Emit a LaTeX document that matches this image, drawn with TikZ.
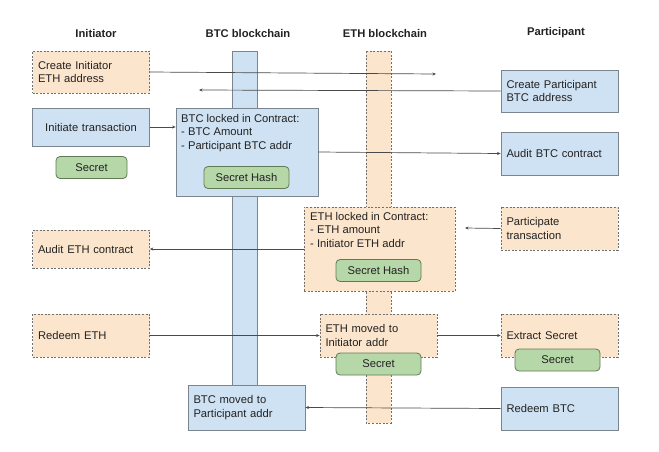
\documentclass[tikz,border=0pt]{standalone}
\usepackage{fontspec}
\setmainfont{Liberation Sans}
\usetikzlibrary{arrows.meta}
\definecolor{btcfill}{HTML}{CFE2F3}
\definecolor{btcline}{HTML}{7A8590}
\definecolor{ethfill}{HTML}{FCE5CD}
\definecolor{ethline}{HTML}{707070}
\definecolor{secfill}{HTML}{B6D7A8}
\definecolor{secline}{HTML}{5F7A55}
\definecolor{arrline}{HTML}{4A4A4A}
\definecolor{txt}{HTML}{222222}

\begin{document}
\begin{tikzpicture}[x=1pt, y=-1pt, font=\fontsize{11.2}{13.5}\selectfont, text=txt]
\tikzstyle{btcbox} = [rectangle, draw = btcline, fill = btcfill, line width = 0.8pt, inner ysep = 0pt, inner xsep = 5.5pt, text width = 106pt, align = left]
\tikzstyle{ethbox} = [rectangle, draw = ethline, fill = ethfill, line width = 0.7pt, dash pattern = on 2pt off 1.6pt, inner ysep = 0pt, inner xsep = 5.5pt, text width = 106pt, align = left]
\tikzstyle{secret} = [rectangle, rounded corners = 4pt, draw = secline, fill = secfill, line width = 0.8pt, inner sep = 0pt, minimum height = 22pt]
\tikzstyle{head} = [font = \fontsize{11.2}{13.5}\selectfont\bfseries]
\tikzstyle{edge} = [-{Stealth[length=3.5pt, width=3pt]}, draw = arrline, line width = 0.7pt]
\useasboundingbox (0,0) rectangle (659,451);
% -----------------------------------
% Headings
\node[head] (hinit) at (96, 33) {Initiator};
\node[head] (hbtc) at (248, 33) {BTC blockchain};
\node[head] (heth) at (385, 33) {ETH blockchain};
\node[head] (hpart) at (556, 33) {Participant};

% -----------------------------------
% Chains
\draw[draw = btcline, fill = btcfill, line width = 0.8pt] (232, 51) rectangle (257, 386);
\draw[draw = ethline, fill = ethfill, line width = 0.7pt, dash pattern = on 2pt off 1.6pt] (366, 51) rectangle (391, 423);

% -----------------------------------
% Initiator
\node[ethbox, minimum height = 42pt] (ciaddr) at (91, 72) {Create Initiator\\ETH address};
\node[btcbox, minimum height = 38pt, align = center] (inittx) at (91, 127) {Initiate transaction};
\node[secret, minimum width = 71pt] (isecret) at (91.5, 167.5) {Secret};
\node[ethbox, minimum height = 38pt] (auditeth) at (91, 249) {Audit ETH contract};
\node[ethbox, minimum height = 43pt] (redeemeth) at (91, 335.5) {Redeem ETH};

% -----------------------------------
% BTC blockchain
\node[btcbox, text width = 131pt, minimum height = 88pt] (btclock) at (247, 152) {};
\node[anchor = north west, inner sep = 0pt, align = left] (btclocktxt) at (181, 114) {BTC locked in Contract:\\- BTC Amount\\- Participant BTC addr};
\node[secret, minimum width = 85pt] (btchash) at (246.5, 177.5) {Secret Hash};
\node[btcbox, minimum height = 45pt] (btcmoved) at (246.5, 407.5) {BTC moved to\\Participant addr};

% -----------------------------------
% ETH blockchain
\node[ethbox, text width = 140pt, minimum height = 84pt] (ethlock) at (379.5, 249) {};
\node[anchor = north west, inner sep = 0pt, align = left] (ethlocktxt) at (310, 212) {ETH locked in Contract:\\- ETH amount\\- Initiator ETH addr};
\node[secret, minimum width = 85pt] (ethhash) at (378.5, 270.5) {Secret Hash};
\node[ethbox, minimum height = 43pt] (ethmoved) at (378.5, 335.5) {ETH moved to\\Initiator addr};
\node[secret, minimum width = 85pt] (esecret) at (378.5, 364) {Secret};

% -----------------------------------
% Participant
\node[btcbox, minimum height = 42pt] (cpaddr) at (559.5, 91) {Create Participant\\BTC address};
\node[btcbox, minimum height = 43pt] (auditbtc) at (559.5, 153.5) {Audit BTC contract};
\node[ethbox, minimum height = 43pt] (parttx) at (559.5, 228.5) {Participate\\transaction};
\node[ethbox, minimum height = 43pt] (extract) at (559.5, 335.5) {Extract Secret};
\node[secret, minimum width = 85pt] (psecret) at (557.5, 360) {Secret};
\node[btcbox, minimum height = 43pt] (redeembtc) at (559.5, 408.5) {Redeem BTC};

% -----------------------------------
% Messages
\coordinate (ciend) at (436, 74);
\coordinate (cpend) at (199, 90);
\coordinate (ptend) at (465, 228);

\draw[edge] (ciaddr.east)--(ciend);
\draw[edge] (cpaddr.west)--(cpend);
\draw[edge] (inittx.east)--(inittx.east -| btclock.west);
\draw[edge] (btclock.east)--(auditbtc.west);
\draw[edge] (parttx.west)--(ptend);
\draw[edge] (ethlock.west)--(auditeth.east);
\draw[edge] (redeemeth.east)--(ethmoved.west);
\draw[edge] (ethmoved.east)--(extract.west);
\draw[edge] (redeembtc.west)--(btcmoved.east);
% -----------------------------------
\end{tikzpicture}
\end{document}
